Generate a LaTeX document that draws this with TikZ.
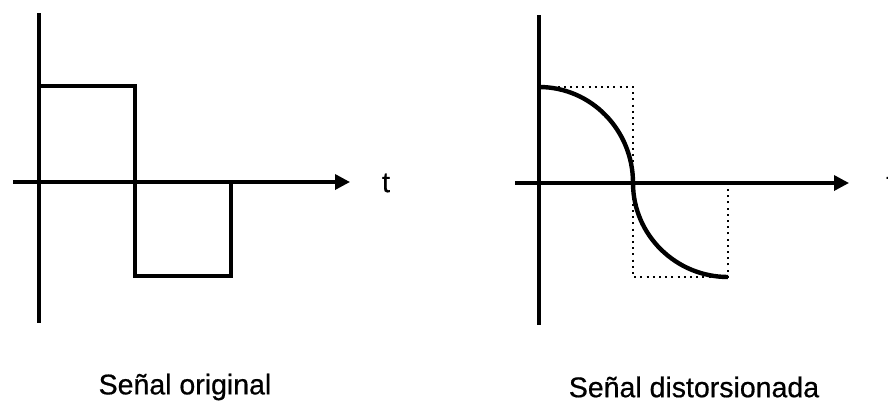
\documentclass[tikz,border=0pt]{standalone}
\usepackage{fontspec}
\setmainfont{Liberation Sans}[FakeBold=0.6]
\usetikzlibrary{arrows.meta}
\begin{document}
\begin{tikzpicture}[x=1pt,y=-1pt,
  axis/.style={line width=3.4pt,-{Triangle[length=15pt,width=15pt]}},
  yaxis/.style={line width=3.4pt},
  wave/.style={line width=3.4pt,line join=miter},
  curve/.style={line width=4.4pt},
  dots/.style={line width=2.2pt,dash pattern=on 2pt off 4.2pt},
  lbl/.style={font=\fontsize{28.5}{32}\selectfont,inner sep=0pt}]
\useasboundingbox (0,0) rectangle (888,402);
% left panel
\coordinate (ly0) at (39,13);
\coordinate (ly1) at (39,323);
\coordinate (lx0) at (13,182);
\coordinate (lx1) at (350,182);
\draw[yaxis] (ly0) -- (ly1);
\draw[axis] (lx0) -- (lx1);
\draw[wave] (39,86) -- (135,86) -- (135,276) -- (231,276) -- (231,182);
\node[lbl] (tl) at (386,183) {t};
\node[lbl] (capl) at (185,387) {Señal original};
% right panel
\coordinate (ry0) at (539,15);
\coordinate (ry1) at (539,325);
\coordinate (rx0) at (515,183);
\coordinate (rx1) at (849,183);
\draw[yaxis] (ry0) -- (ry1);
\draw[axis] (rx0) -- (rx1);
\draw[dots] (539,87) -- (633,87) -- (633,277) -- (728,277) -- (728,183);
\draw[curve] (539,87) .. controls (591,87) and (633,130) .. (633,183)
  .. controls (633,235) and (676,277) .. (728,277);
\begin{scope}
\clip (0,0) rectangle (888,402);
\node[lbl,anchor=west] (tr) at (886,183) {t};
\end{scope}
\node[lbl] (capr) at (694,387) {Señal distorsionada};
\end{tikzpicture}
\end{document}
